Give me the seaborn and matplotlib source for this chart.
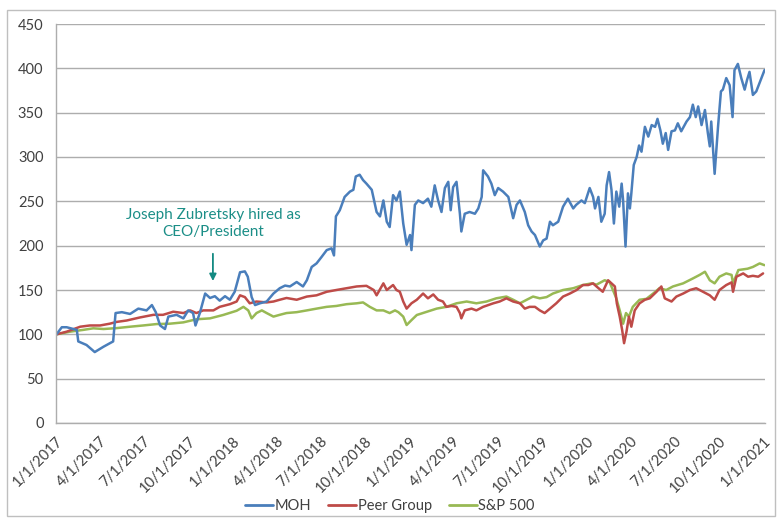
import matplotlib
matplotlib.use("Agg")
import matplotlib.pyplot as plt
import matplotlib.dates as mdates
from matplotlib.patches import Rectangle
import seaborn as sns
import pandas as pd
import numpy as np

# ---------------- data (days since 2017-01-01, indexed value) ----------------
base_date = "2017-01-01"

moh_days = [1, 12, 22, 43, 46, 63, 80, 98, 118, 123, 136, 153, 170, 187, 198, 206, 215, 225,
            232, 249, 263, 273, 283, 288, 297, 308, 318, 328, 338, 349, 359, 369, 380, 390,
            396, 404, 411, 421, 435, 449, 462, 473, 483, 497, 510, 518, 528, 538, 548, 559,
            569, 574, 578, 586, 596, 607, 614, 619, 627, 634, 641, 652, 662, 669, 676, 683,
            689, 696, 703, 710, 717, 724, 731, 734, 741, 748, 758, 768, 775, 782, 789, 796,
            803, 810, 815, 820, 827, 834, 837, 844, 854, 865, 872, 879, 882, 892, 899, 906,
            913, 923, 934, 944, 951, 958, 968, 975, 982, 989, 999, 1006, 1013, 1020, 1026,
            1037, 1047, 1057, 1068, 1074, 1085, 1092, 1102, 1109, 1113, 1120, 1126, 1133,
            1137, 1142, 1147, 1152, 1157, 1163, 1168, 1171, 1176, 1181, 1185, 1188, 1193,
            1199, 1204, 1209, 1216, 1223, 1230, 1237, 1242, 1248, 1253, 1259, 1264, 1271,
            1278, 1284, 1291, 1302, 1309, 1315, 1321, 1326, 1333, 1340, 1346, 1350, 1353,
            1360, 1367, 1373, 1377, 1384, 1391, 1397, 1401, 1408, 1415, 1422, 1427, 1432,
            1439, 1446, 1453, 1463]
moh_vals = [100, 108, 108, 105, 92, 88, 80, 86, 92, 124, 125, 123, 129, 127, 133, 125, 110, 106,
            120, 122, 118, 127, 124, 110, 124, 146, 141, 143, 138, 143, 139, 148, 170, 171,
            165, 142, 133, 135, 137, 146, 152, 155, 154, 159, 154, 161, 176, 180, 187, 195,
            197, 189, 233, 240, 255, 261, 263, 278, 280, 274, 270, 263, 238, 233, 251, 227,
            221, 257, 251, 261, 225, 201, 212, 195, 246, 251, 248, 253, 244, 268, 251, 238,
            265, 272, 240, 266, 272, 236, 216, 236, 238, 236, 242, 255, 285, 278, 270, 257,
            265, 261, 255, 231, 246, 251, 238, 223, 216, 212, 199, 206, 208, 227, 223,
            227, 244, 253, 242, 246, 251, 248, 265, 255, 242, 255, 227, 236,
            268, 283, 263, 225, 261, 244, 270, 251, 199, 259, 242, 259, 291,
            300, 313, 306, 334, 323, 336, 334, 343, 330, 315, 327, 308, 329,
            330, 338, 329, 340, 345, 359, 345, 357, 336, 353, 327, 312, 340,
            281, 334, 374, 376, 389, 381, 345, 398, 405, 389, 376, 387, 396,
            370, 374, 384, 398]

peer_days = [1, 22, 50, 70, 91, 111, 125, 146, 173, 201, 221, 242, 263, 277, 290, 304, 325, 338,
             359, 373, 380, 390, 400, 414, 435, 449, 462, 476, 497, 518, 538, 559, 579, 600,
             621, 641, 656, 662, 676, 683, 696, 703, 710, 717, 724, 734, 745, 758, 768, 779,
             789, 799, 806, 817, 827, 834, 837, 844, 858, 868, 882, 903, 916, 930, 944, 958,
             968, 978, 989, 999, 1009, 1020, 1033, 1047, 1061, 1075, 1088, 1099, 1109, 1116,
             1129, 1140, 1147, 1154, 1158, 1164, 1169, 1173, 1178, 1183, 1188, 1195, 1205,
             1216, 1226, 1240, 1250, 1257, 1271, 1281, 1295, 1309, 1322, 1336, 1350, 1360,
             1370, 1384, 1395, 1398, 1405, 1419, 1429, 1439, 1450, 1460]
peer_vals = [100, 103, 108.6, 110, 110, 112, 114, 115.6, 119, 122, 122, 125.5, 124, 127, 124, 127, 127, 131,
             134, 137, 144, 142, 135, 137, 136, 137, 139, 141, 139, 142.6, 144, 148, 150, 152,
             154, 154.7, 150, 144, 157.5, 150, 155.6, 150, 148, 137, 129, 135, 139, 146, 140.6, 145,
             139, 137, 131, 132, 131, 124, 118, 127, 129, 127, 131, 135, 137, 140.6, 137, 135,
             129, 131, 131, 127, 124, 129, 135, 142.6, 146, 150, 155.6, 155.6, 157.5, 154,
             148, 161, 157.5, 154, 135, 120, 105, 90, 103, 120, 108.6, 127, 135,
             139, 140.6, 148, 154, 140.6, 137, 142.6, 146, 150, 152, 148, 144, 139,
             150, 155.6, 158.6, 148, 165, 168.7, 165, 166, 165, 168.7]

sp_days = [1, 29, 56, 77, 98, 125, 153, 180, 208, 235, 263, 290, 318, 345, 373, 387, 397, 404,
           414, 425, 435, 449, 462, 476, 497, 518, 538, 559, 579, 600, 621, 634, 648, 662,
           676, 689, 700, 707, 717, 724, 734, 745, 766, 786, 806, 827, 848, 868, 889, 909,
           930, 944, 958, 972, 985, 999, 1013, 1026, 1047, 1068, 1088, 1106, 1116, 1133,
           1143, 1150, 1157, 1164, 1171, 1177, 1183, 1191, 1205, 1219, 1233, 1246, 1260,
           1274, 1295, 1315, 1329, 1340, 1350, 1360, 1370, 1384, 1395, 1398, 1409, 1428,
           1439, 1453, 1463]
sp_vals = [100, 103, 105, 106.8, 106, 107, 108.6, 110, 111.6, 112, 113.5, 117, 118, 121.8, 126.6, 131, 127, 118,
           124, 127, 124, 120, 122, 124, 125, 127, 129, 131, 132, 134, 135, 136, 131, 127,
           127, 124, 127, 125, 120, 110.5, 116, 121.8, 125.5, 129, 131, 135, 137, 135, 137, 140.6,
           142.6, 139, 135, 139, 142.6, 140.6, 142, 146, 150, 152, 155.6, 157.5, 156, 161,
           159, 150, 140.6, 127, 112, 124, 120, 131, 139, 140, 146, 152, 150,
           154, 157.5, 163, 167, 170.6, 161, 157.5, 165, 168.7, 167, 157.5, 172.5, 174,
           176, 180, 178]

series_names = ["MOH", "Peer Group", "S&P 500"]
series_colors = ["#4A7EBB", "#BE4B48", "#98B954"]

x_tick_dates = pd.date_range("2017-01-01", "2021-01-01", freq="QS")
y_ticks = [0, 50, 100, 150, 200, 250, 300, 350, 400, 450]

annotation_text = "Joseph Zubretsky hired as\nCEO/President"
annotation_date = "2017-11-21"

# ---------------- build frame ----------------
def make_df(days, vals, name):
    d = pd.to_datetime(base_date) + pd.to_timedelta(days, unit="D")
    return pd.DataFrame({"date": d, "value": vals, "series": name})

df = pd.concat([make_df(moh_days, moh_vals, "MOH"),
                make_df(peer_days, peer_vals, "Peer Group"),
                make_df(sp_days, sp_vals, "S&P 500")], ignore_index=True)

# ---------------- plot ----------------
sns.set_style("white")
plt.rcParams["font.family"] = ["Lato", "DejaVu Sans"]

fig = plt.figure(figsize=(7.77, 5.18), dpi=100)
ax = fig.add_axes([56 / 777, 1 - 423 / 518, 709 / 777, 399 / 518])

# draw in reverse order so MOH is on top
for name, col in reversed(list(zip(series_names, series_colors))):
    sns.lineplot(data=df[df.series == name], x="date", y="value", color=col,
                 linewidth=1.8, ax=ax, label=name, legend=False)

ax.set_xlim(pd.Timestamp("2017-01-01"), pd.Timestamp("2021-01-04"))
ax.set_ylim(0, 450)
ax.set_yticks(y_ticks)
ax.yaxis.grid(True, color="#ADADAD", linewidth=1)
ax.xaxis.grid(False)
ax.set_axisbelow(True)
ax.set_xlabel("")
ax.set_ylabel("")

ax.set_xticks(x_tick_dates)
ax.set_xticklabels([f"{d.month}/{d.day}/{d.year}" for d in x_tick_dates],
                   rotation=45, ha="right", rotation_mode="anchor")
ax.tick_params(axis="x", which="major", direction="out", length=5, width=1,
               color="#ADADAD", labelsize=10.5, labelcolor="#404040", pad=3)
ax.tick_params(axis="y", which="major", direction="out", length=5, width=1,
               color="#ADADAD", labelsize=10.5, labelcolor="#404040", pad=4)

for s in ["top", "right"]:
    ax.spines[s].set_visible(False)
for s in ["left", "bottom"]:
    ax.spines[s].set_color("#ADADAD")
    ax.spines[s].set_linewidth(1)

# annotation
ann_x = pd.Timestamp(annotation_date)
ax.annotate("", xy=(ann_x, 157), xytext=(ann_x, 194),
            arrowprops=dict(arrowstyle="-|>", color="#138A82", lw=1.3,
                            mutation_scale=10))
ax.text(ann_x, 225, annotation_text, color="#1B8E87", fontsize=11,
        ha="center", va="center", linespacing=1.35)

# legend
handles = [plt.Line2D([0], [0], color=c, lw=2) for c in series_colors]
fig.legend(handles, series_names, loc="center", bbox_to_anchor=(390 / 777, 1 - 506 / 518),
           ncol=3, frameon=False, fontsize=10.5, handlelength=1.9, handletextpad=0.1,
           columnspacing=1.2, labelcolor="#404040")

# chart border
fig.patches.append(Rectangle((7 / 777, 2 / 518), 768 / 777, 506 / 518, transform=fig.transFigure,
                             fill=False, edgecolor="#BFBFBF", linewidth=1))

fig.savefig("out.png", dpi=100)
